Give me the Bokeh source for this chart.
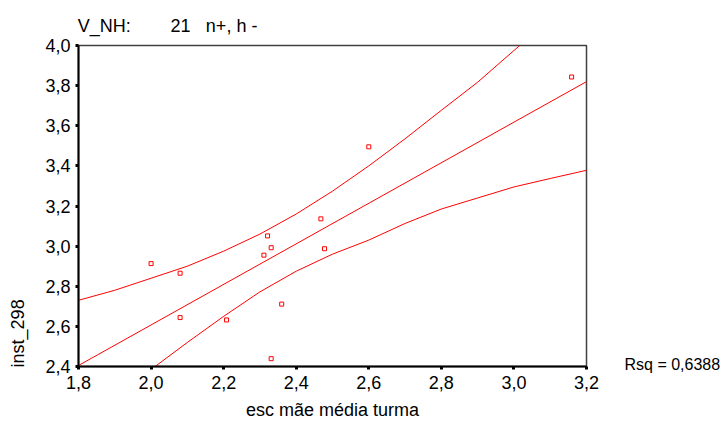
from bokeh.plotting import figure
from bokeh.models import Range1d, CustomJSTickFormatter, FixedTicker, LinearAxis, ColumnDataSource
from bokeh.embed import file_html
from bokeh.resources import INLINE

# ---- data ----
pts_x = [2.000, 2.080, 2.080, 2.208, 2.311, 2.321, 2.331, 2.331, 2.360, 2.468, 2.478, 2.600, 3.159]
pts_y = [2.913, 2.865, 2.644, 2.632, 2.955, 3.051, 2.992, 2.439, 2.711, 3.136, 2.987, 3.495, 3.843]

fit_x = [1.8, 3.2]
fit_y = [2.405, 3.820]

band_x = [1.8, 1.9, 2.0, 2.1, 2.2, 2.3, 2.4, 2.5, 2.6, 2.7, 2.8, 2.9, 3.0, 3.1, 3.2]
band_upper = [2.730, 2.780, 2.840, 2.900, 2.975, 3.060, 3.160, 3.274, 3.400, 3.535, 3.677, 3.817, 3.975, 4.130, 4.290]
band_lower = [2.080, 2.240, 2.385, 2.520, 2.650, 2.772, 2.875, 2.960, 3.030, 3.113, 3.185, 3.240, 3.295, 3.337, 3.378]

x_ticks = [1.8, 2.0, 2.2, 2.4, 2.6, 2.8, 3.0, 3.2]
y_ticks = [2.4, 2.6, 2.8, 3.0, 3.2, 3.4, 3.6, 3.8, 4.0]

title_parts = ["V_NH:", "21", "n+, h -"]
title_at = [1.8710, 2.0810, 2.2220]      # x positions (data units) of the header texts
x_label = "esc mãe média turma"
y_label = "inst_298"
y_label_at = [2.565]                     # y position (data units) of the y-label centre
rsq_text = "Rsq = 0,6388"
rsq_at = [2.41]

FONT = "Liberation Sans"
W, H = 723, 441
BL, BR, BT, BB = 78, 130, 45, 75

p = figure(width=W, height=H, output_backend="svg", toolbar_location=None,
           x_range=Range1d(1.8, 3.2), y_range=Range1d(2.4, 4.0),
           min_border_left=BL, min_border_right=BR, min_border_top=BT, min_border_bottom=BB)
p.border_fill_color = "white"
p.background_fill_color = "white"
p.outline_line_color = "#404040"
p.outline_line_width = 1.5
p.xgrid.visible = False
p.ygrid.visible = False

fmt = CustomJSTickFormatter(code="return tick.toFixed(1).replace('.', ',');")
for ax, ticks in ((p.xaxis[0], x_ticks), (p.yaxis[0], y_ticks)):
    ax.ticker = FixedTicker(ticks=ticks)
    ax.formatter = fmt
    ax.axis_line_color = "black"
    ax.axis_line_width = 2
    ax.major_tick_line_color = "black"
    ax.major_tick_line_width = 3
    ax.major_tick_in = 0
    ax.major_tick_out = 3
    ax.minor_tick_line_color = None
    ax.major_label_text_font = FONT
    ax.major_label_text_font_size = "18px"
    ax.major_label_text_color = "black"
p.xaxis[0].major_label_standoff = 6
p.yaxis[0].major_label_standoff = 5

p.xaxis[0].axis_label = x_label
p.xaxis[0].axis_label_text_font = FONT
p.xaxis[0].axis_label_text_font_size = "18px"
p.xaxis[0].axis_label_text_font_style = "normal"
p.xaxis[0].axis_label_text_color = "black"
p.xaxis[0].axis_label_standoff = 8


def text_axis(labels, positions, side, standoff, size="18px", orientation="horizontal"):
    ax = LinearAxis(ticker=FixedTicker(ticks=positions),
                    formatter=CustomJSTickFormatter(args=dict(labels=labels),
                                                    code="return labels[index];"))
    ax.axis_line_color = None
    ax.major_tick_line_color = None
    ax.minor_tick_line_color = None
    ax.major_tick_in = 0
    ax.major_tick_out = 0
    ax.major_label_standoff = standoff
    ax.major_label_text_font = FONT
    ax.major_label_text_font_size = size
    ax.major_label_text_color = "black"
    ax.major_label_orientation = orientation
    p.add_layout(ax, side)
    return ax


text_axis(title_parts, title_at, "above", 10)
text_axis([rsq_text], rsq_at, "right", 38, size="16px")
text_axis([y_label], y_label_at, "left", 14, orientation="vertical")

p.line(band_x, band_upper, line_color="red", line_width=1)
p.line(band_x, band_lower, line_color="red", line_width=1)
p.line(fit_x, fit_y, line_color="red", line_width=1)

src = ColumnDataSource(dict(x=pts_x, y=pts_y))
p.rect(x="x", y="y", width=4, height=4, width_units="screen", height_units="screen",
       source=src, fill_color="white", line_color="#ff0000", line_width=1)

open("out.html", "w").write(file_html(p, INLINE))
